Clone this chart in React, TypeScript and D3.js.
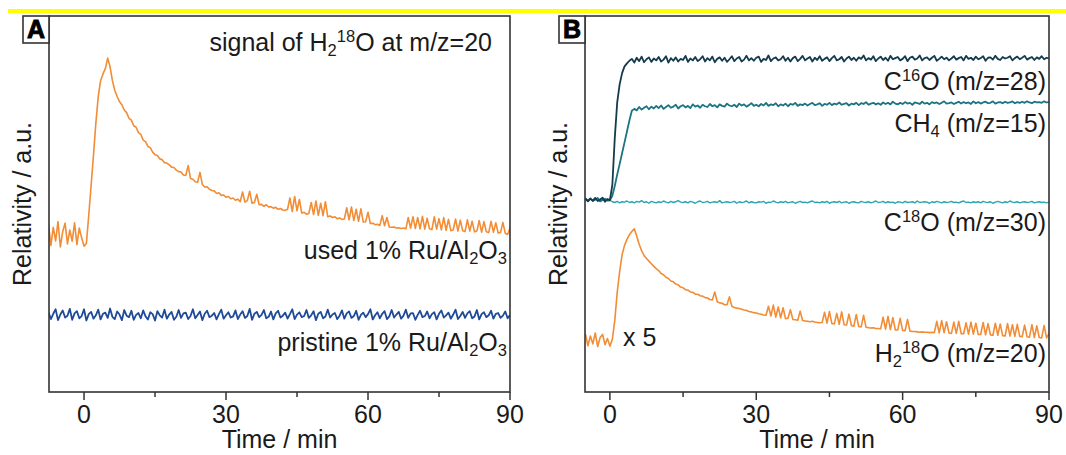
import React from 'react';
import * as d3 from 'd3';

// ---------------- data ----------------
// sampling grids (minutes)
const T_A = d3.range(-7.5, 90.001, 0.5);
const T_B = d3.range(-5, 90.001, 0.5);
const MAJOR_TICKS = [0, 30, 60, 90];
const MINOR_TICKS = [15, 45, 75];

// Panel A: H2 18O signal (a.u.)
const USED_A = [
  44.5, 39.0, 43.8, 40.2, 45.3, 38.6, 42.7, 44.9, 39.4, 43.1,
  40.1, 45.0, 39.2, 43.6, 41.0, 38.8, 39.5, 47.0, 55.0, 63.0,
  71.5, 78.5, 82.8, 84.6, 86.0, 88.8, 86.5, 82.8, 80.2, 78.6,
  77.2, 76.4, 75.0, 74.3, 72.8, 72.3, 70.8, 70.4, 69.0, 68.5,
  67.0, 66.6, 65.3, 65.0, 63.8, 63.1, 62.9, 62.0, 61.8, 61.0,
  60.9, 60.4, 59.8, 59.7, 59.0, 58.6, 58.5, 57.7, 57.6, 60.2,
  56.8, 56.6, 55.9, 55.8, 58.4, 55.2, 54.5, 54.6, 53.9, 53.6,
  53.5, 52.8, 53.0, 52.3, 52.4, 51.8, 52.0, 51.4, 51.6, 51.0,
  51.3, 50.6, 53.2, 50.5, 50.9, 53.4, 50.2, 50.4, 52.6, 49.8,
  49.9, 49.4, 49.8, 49.2, 49.3, 48.9, 49.1, 48.6, 48.8, 48.4,
  48.3, 48.6, 51.6, 48.0, 52.0, 48.2, 51.2, 47.6, 47.8, 47.3,
  47.5, 50.4, 47.2, 50.8, 47.0, 50.2, 46.9, 50.6, 46.6, 46.8,
  46.4, 46.6, 46.1, 46.3, 45.9, 46.0, 49.0, 45.8, 49.2, 45.6,
  48.6, 45.4, 48.7, 45.2, 45.3, 47.8, 44.8, 44.9, 44.5, 44.6,
  44.3, 46.9, 44.2, 46.4, 43.9, 43.8, 43.9, 43.6, 43.7, 43.5,
  43.6, 43.4, 46.4, 43.6, 46.6, 43.5, 46.4, 43.4, 46.7, 43.3,
  46.2, 43.4, 43.2, 46.6, 43.3, 46.1, 43.1, 46.4, 43.0, 45.9,
  42.9, 43.1, 46.0, 42.8, 45.7, 42.9, 42.7, 45.8, 42.8, 45.4,
  42.6, 42.8, 45.6, 42.5, 45.3, 42.6, 42.4, 45.4, 42.5, 45.0,
  42.3, 42.4, 45.1, 42.2, 41.9, 43.6,
];
const PRISTINE_A = [
  21.2, 19.4, 20.8, 22.0, 19.1, 20.6, 21.7, 19.8, 20.3, 22.1,
  19.2, 20.9, 21.5, 19.6, 20.2, 22.0, 19.0, 20.7, 21.3, 19.5,
  20.4, 21.9, 19.3, 20.8, 21.1, 19.7, 22.2, 20.0, 19.4, 21.4,
  20.6, 19.1, 21.8, 20.3, 19.9, 21.6, 19.2, 20.5, 21.0, 19.6,
  21.7, 20.1, 19.3, 21.2, 20.7, 19.0, 21.5, 20.4, 19.8, 21.9,
  19.5, 20.6, 21.3, 19.2, 20.0, 21.8, 19.7, 20.9, 21.1, 19.4,
  20.2, 22.0, 19.6, 20.5, 21.4, 19.1, 20.8, 21.6, 19.9, 20.3,
  21.0, 19.3, 20.7, 21.9, 19.5, 20.4, 21.2, 19.8, 20.1, 21.7,
  19.4, 20.6, 21.5, 19.7, 20.2, 22.1, 19.2, 20.8, 21.3, 19.9,
  20.5, 21.8, 19.6, 20.0, 21.4, 19.3, 20.9, 21.6, 19.8, 20.3,
  21.1, 19.5, 20.7, 22.0, 19.4, 20.6, 21.2, 19.9, 20.2, 21.8,
  19.7, 20.4, 21.5, 19.1, 20.8, 21.3, 19.6, 20.1, 21.9, 19.8,
  20.6, 21.0, 19.4, 20.3, 21.7, 19.5, 20.9, 21.4, 19.7, 20.2,
  21.6, 19.2, 20.5, 21.1, 19.9, 20.7, 22.0, 19.3, 20.4, 21.2,
  19.6, 20.8, 21.5, 19.4, 20.1, 21.8, 19.8, 20.6, 21.3, 19.5,
  20.3, 21.9, 19.7, 20.9, 21.0, 19.2, 20.5, 21.6, 19.9, 20.2,
  21.4, 19.6, 20.7, 21.2, 19.3, 20.8, 21.7, 19.8, 20.4, 21.1,
  19.5, 20.6, 21.9, 19.4, 20.2, 21.3, 19.7, 20.9, 21.5, 19.6,
  20.1, 21.8, 19.3, 20.7, 21.2, 19.9, 20.4, 21.6, 19.5, 20.8,
  21.0, 19.7, 20.3, 21.4, 19.6, 20.5,
];

// Panel B (a.u.)
const C16O_B = [
  51.5, 50.7, 51.4, 50.9, 51.6, 50.8, 51.2, 51.7, 50.6, 51.3,
  51.0, 55.0, 67.5, 77.0, 81.8, 84.8, 86.6, 87.4, 88.1, 88.6,
  87.6, 88.9, 88.0, 89.2, 87.7, 88.5, 89.0, 87.8, 88.7, 88.2,
  89.1, 87.9, 88.4, 89.3, 87.6, 88.8, 88.1, 89.0, 87.9, 88.6,
  88.3, 89.4, 87.8, 88.7, 88.2, 89.1, 88.0, 88.5, 89.3, 87.9,
  88.8, 88.2, 89.2, 87.7, 88.6, 89.0, 88.1, 88.9, 87.8, 88.5,
  89.3, 88.0, 88.7, 89.1, 87.9, 88.4, 89.4, 88.2, 88.8, 88.1,
  88.9, 89.2, 87.8, 88.6, 88.3, 89.5, 88.0, 88.7, 89.0, 88.2,
  88.5, 89.3, 88.1, 88.9, 87.9, 88.8, 89.2, 88.0, 88.6, 89.4,
  88.2, 88.7, 89.1, 87.9, 88.9, 88.3, 89.3, 88.1, 88.6, 89.0,
  88.0, 88.8, 89.4, 88.2, 88.5, 89.1, 87.9, 88.7, 89.2, 88.3,
  88.9, 88.1, 89.0, 88.6, 89.5, 88.2, 88.8, 88.4, 89.3, 88.0,
  88.7, 89.2, 88.3, 88.9, 88.1, 89.4, 88.5, 88.8, 89.1, 88.2,
  88.6, 89.3, 88.0, 88.9, 89.2, 88.4, 88.7, 89.5, 88.2, 88.8,
  89.0, 88.3, 88.9, 89.4, 88.1, 88.6, 89.2, 88.5, 88.9, 88.2,
  88.7, 89.3, 88.4, 88.8, 89.1, 88.2, 89.4, 88.6, 88.9, 88.3,
  89.2, 88.5, 88.8, 89.3, 88.1, 88.9, 89.0, 88.4, 89.4, 88.6,
  88.3, 89.1, 88.7, 88.9, 89.3, 88.2, 88.8, 89.2, 88.5, 88.9,
  89.4, 88.4, 88.8, 89.1, 88.3, 89.0, 88.6, 89.3, 88.5, 88.9,
  88.7,
];
const CH4_B = [
  51.3, 50.9, 51.5, 50.8, 51.2, 51.6, 50.7, 51.1, 51.4, 50.9,
  51.0, 52.2, 54.8, 57.8, 60.6, 63.5, 66.4, 69.3, 72.2, 74.8,
  75.3, 74.9, 75.8, 75.1, 75.6, 76.0, 75.2, 75.9, 75.4, 76.1,
  75.5, 76.2, 75.3, 75.8, 76.3, 75.6, 75.9, 76.4, 75.4, 76.0,
  76.3, 75.7, 76.1, 75.5, 76.5, 75.9, 76.2, 75.6, 76.4, 76.0,
  75.8, 76.6, 76.0, 76.3, 75.7, 76.5, 76.1, 75.9, 76.7, 76.2,
  76.0, 76.4, 75.8, 76.7, 76.2, 76.5, 75.9, 76.3, 76.8, 76.1,
  76.4, 76.0, 76.6, 76.2, 76.9, 76.1, 76.5, 76.3, 76.8, 76.0,
  76.5, 76.2, 76.7, 76.0, 76.6, 76.4, 76.9, 76.1, 76.5, 76.3,
  76.7, 76.2, 76.6, 76.9, 76.3, 76.5, 76.8, 76.1, 76.6, 76.4,
  76.9, 76.3, 76.7, 76.5, 77.0, 76.4, 76.6, 76.8, 76.2, 76.7,
  76.5, 76.9, 76.3, 76.8, 76.6, 77.1, 76.4, 76.7, 76.9, 76.5,
  76.8, 76.4, 77.0, 76.6, 76.9, 76.5, 77.2, 76.7, 76.5, 76.9,
  76.6, 77.1, 76.7, 76.9, 76.4, 77.0, 76.8, 76.6, 77.2, 76.7,
  76.9, 76.5, 77.1, 76.8, 77.0, 76.6, 76.9, 77.3, 76.7, 76.8,
  77.0, 76.6, 76.9, 77.2, 76.7, 77.1, 76.8, 77.0, 76.6, 77.3,
  76.8, 77.1, 76.7, 77.0, 77.2, 76.8, 76.9, 77.3, 76.7, 77.0,
  77.1, 76.8, 77.2, 76.9, 77.0, 77.3, 76.8, 77.1, 76.9, 77.2,
  76.9, 77.3, 77.0, 76.8, 77.2, 77.0, 77.1, 76.9, 77.3, 77.0,
  77.1,
];
const C18O_B = [
  51.2, 50.9, 51.4, 50.8, 51.1, 51.5, 50.9, 51.2, 51.0, 51.3,
  51.0, 50.6, 50.4, 50.7, 50.3, 50.6, 50.5, 50.8, 50.4, 50.6,
  50.3, 50.7, 50.5, 50.9, 50.4, 50.6, 50.2, 50.7, 50.5, 50.3,
  50.6, 50.4, 50.8, 50.5, 50.3, 50.7, 50.4, 50.6, 50.9, 50.5,
  50.4, 50.6, 50.3, 50.7, 50.5, 50.2, 50.6, 50.8, 50.4, 50.5,
  50.7, 50.3, 50.5, 50.6, 50.4, 50.9, 50.3, 50.5, 50.6, 50.4,
  50.5, 50.7, 50.2, 50.6, 50.4, 50.5, 50.8, 50.3, 50.6, 50.4,
  50.3, 50.6, 50.5, 50.7, 50.2, 50.5, 50.4, 50.8, 50.5, 50.3,
  50.6, 50.4, 50.7, 50.3, 50.5, 50.6, 50.2, 50.5, 50.7, 50.4,
  50.5, 50.3, 50.6, 50.8, 50.4, 50.5, 50.3, 50.6, 50.4, 50.7,
  50.2, 50.5, 50.6, 50.4, 50.7, 50.3, 50.5, 50.6, 50.2, 50.5,
  50.6, 50.4, 50.3, 50.7, 50.5, 50.4, 50.6, 50.3, 50.5, 50.8,
  50.4, 50.5, 50.7, 50.3, 50.6, 50.4, 50.5, 50.2, 50.6, 50.5,
  50.3, 50.7, 50.4, 50.5, 50.6, 50.3, 50.8, 50.4, 50.5, 50.6,
  50.5, 50.2, 50.6, 50.4, 50.7, 50.5, 50.3, 50.6, 50.4, 50.5,
  50.7, 50.4, 50.5, 50.3, 50.6, 50.8, 50.4, 50.5, 50.3, 50.6,
  50.4, 50.6, 50.3, 50.7, 50.5, 50.4, 50.6, 50.2, 50.5, 50.7,
  50.5, 50.3, 50.6, 50.4, 50.8, 50.5, 50.4, 50.6, 50.3, 50.5,
  50.6, 50.4, 50.5, 50.7, 50.3, 50.5, 50.6, 50.4, 50.5, 50.3,
  50.5,
];
const H218O_B = [
  15.4, 12.3, 14.9, 12.8, 15.7, 12.1, 14.5, 15.3, 12.6, 14.2,
  12.2, 14.0, 19.0, 26.5, 32.0, 36.5, 39.0, 40.6, 41.8, 42.7,
  43.4, 41.5, 39.3, 37.6, 36.3, 35.5, 34.8, 34.1, 33.4, 32.8,
  32.3, 31.5, 31.2, 30.5, 30.2, 29.5, 29.3, 28.7, 28.5, 27.9,
  27.7, 27.2, 27.1, 26.6, 26.5, 26.0, 26.0, 25.6, 25.5, 25.1,
  25.0, 24.6, 24.5, 26.6, 24.0, 23.7, 23.6, 23.2, 23.2, 25.3,
  22.8, 22.5, 22.3, 22.2, 22.0, 21.8, 21.7, 21.4, 21.3, 21.1,
  21.0, 20.8, 20.7, 20.5, 20.4, 22.8, 20.2, 23.1, 19.9, 22.6,
  19.7, 22.4, 19.5, 19.6, 21.9, 19.3, 19.2, 19.1, 21.5, 19.0,
  18.9, 18.8, 18.7, 18.8, 18.6, 18.5, 18.4, 18.5, 21.2, 18.3,
  21.4, 18.2, 18.1, 20.9, 18.0, 21.3, 17.9, 17.8, 20.7, 17.7,
  17.5, 20.6, 17.4, 17.3, 20.4, 17.2, 17.1, 17.0, 17.1, 16.9,
  16.9, 16.8, 19.9, 16.7, 20.1, 16.6, 19.8, 16.5, 16.5, 19.6,
  16.4, 16.3, 19.3, 16.2, 16.1, 16.1, 16.0, 15.9, 16.0, 15.9,
  15.9, 15.8, 15.9, 15.8, 18.8, 15.7, 19.0, 15.8, 18.7, 15.7,
  15.6, 18.6, 15.6, 18.8, 15.5, 15.5, 18.4, 15.4, 18.6, 15.4,
  18.3, 15.3, 15.3, 18.5, 15.2, 18.2, 15.2, 15.1, 18.3, 15.1,
  18.1, 15.0, 14.9, 18.2, 14.9, 17.9, 14.8, 18.0, 14.8, 14.7,
  17.8, 14.7, 14.6, 17.9, 14.5, 17.6, 14.5, 14.4, 17.7, 14.4,
  15.5,
];

// ---------------- styling ----------------
const FONT = "'Liberation Sans', Arial, Helvetica, sans-serif";
const TXT = '#1a1a1a';
const FRAME = '#333333';
const FS = 25;

type Seg = { t: string; k?: 'sub' | 'sup' };

function RichText({ x, y, segs, anchor = 'end', size = FS }: { x: number; y: number; segs: Seg[]; anchor?: string; size?: number }) {
  let cur = 0;
  const small = size * 0.66;
  return (
    <text x={x} y={y} textAnchor={anchor as any} fontFamily={FONT} fontSize={size} fill={TXT}>
      {segs.map((s, i) => {
        const target = s.k === 'sub' ? size * 0.2 : s.k === 'sup' ? -size * 0.38 : 0;
        const dy = target - cur;
        cur = target;
        return (
          <tspan key={i} dy={dy} fontSize={s.k ? small : size}>
            {s.t}
          </tspan>
        );
      })}
    </text>
  );
}

type SeriesDef = { t: number[]; v: number[]; color: string; width?: number };
type LabelDef = { x: number; y: number; segs: Seg[]; anchor?: string };

function Panel({ id, letter, left, right, top, bottom, xDomain, series, labels }: {
  id: string; letter: string; left: number; right: number; top: number; bottom: number;
  xDomain: [number, number]; series: SeriesDef[]; labels: LabelDef[];
}) {
  const x = d3.scaleLinear().domain(xDomain).range([left, right]);
  const y = d3.scaleLinear().domain([0, 100]).range([bottom, top]);
  const cx = (left + right) / 2;
  const cy = (top + bottom) / 2;
  return (
    <g>
      <defs>
        <clipPath id={`clip-${id}`}>
          <rect x={left} y={top} width={right - left} height={bottom - top} />
        </clipPath>
      </defs>
      <g clipPath={`url(#clip-${id})`}>
        {series.map((s, i) => {
          const line = d3.line<number>().x((_, j) => x(s.t[j])).y((d) => y(d));
          return <path key={i} d={line(s.v) || ''} fill="none" stroke={s.color} strokeWidth={s.width ?? 1.5} strokeLinejoin="round" />;
        })}
      </g>
      <rect x={left} y={top} width={right - left} height={bottom - top} fill="none" stroke={FRAME} strokeWidth={1.6} />
      {MAJOR_TICKS.map((t) => (
        <g key={t}>
          <line x1={x(t)} x2={x(t)} y1={bottom} y2={bottom + 8} stroke={FRAME} strokeWidth={1.5} />
          <text x={x(t)} y={bottom + 31} textAnchor="middle" fontFamily={FONT} fontSize={FS} fill={TXT}>{t}</text>
        </g>
      ))}
      {MINOR_TICKS.map((t) => (
        <line key={t} x1={x(t)} x2={x(t)} y1={bottom} y2={bottom + 5} stroke={FRAME} strokeWidth={1.5} />
      ))}
      <text x={cx} y={bottom + 56} textAnchor="middle" fontFamily={FONT} fontSize={FS} fill={TXT}>Time / min</text>
      <text transform={`translate(${left - 18},${cy}) rotate(-90)`} textAnchor="middle" fontFamily={FONT} fontSize={FS} fill={TXT}>Relativity / a.u.</text>
      {labels.map((l, i) => (
        <RichText key={i} x={l.x} y={l.y} segs={l.segs} anchor={l.anchor ?? 'end'} />
      ))}
      <rect x={left - 26} y={top} width={26} height={27} fill="#fff" stroke={FRAME} strokeWidth={1.6} />
      <text x={left - 13} y={top + 22} textAnchor="middle" fontFamily={FONT} fontSize={25} fontWeight="bold" fill="#000" stroke="#000" strokeWidth={0.9}>{letter}</text>
    </g>
  );
}

export default function App() {
  return (
    <div style={{ position: 'absolute', left: 0, top: 0 }}>
      <svg width={1066} height={455} style={{ display: 'block', background: '#fff' }}>
        <rect x={8} y={9} width={1058} height={4} fill="#ffff00" />
        <Panel
          id="a" letter="A" left={49} right={510} top={16} bottom={392} xDomain={[-7.4, 90]}
          series={[
            { t: T_A, v: USED_A, color: '#f28c35', width: 1.6 },
            { t: T_A, v: PRISTINE_A, color: '#1e4a98', width: 1.8 },
          ]}
          labels={[
            { x: 492, y: 51, segs: [{ t: 'signal of H' }, { t: '2', k: 'sub' }, { t: '18', k: 'sup' }, { t: 'O at m/z=20' }] },
            { x: 507, y: 259, segs: [{ t: 'used 1% Ru/Al' }, { t: '2', k: 'sub' }, { t: 'O' }, { t: '3', k: 'sub' }] },
            { x: 507, y: 351, segs: [{ t: 'pristine 1% Ru/Al' }, { t: '2', k: 'sub' }, { t: 'O' }, { t: '3', k: 'sub' }] },
          ]}
        />
        <Panel
          id="b" letter="B" left={585} right={1049} top={16} bottom={392} xDomain={[-5.1, 90]}
          series={[
            { t: T_B, v: C18O_B, color: '#2aa6b0', width: 1.4 },
            { t: T_B, v: CH4_B, color: '#1b7580', width: 1.8 },
            { t: T_B, v: C16O_B, color: '#143a4e', width: 1.8 },
            { t: T_B, v: H218O_B, color: '#f28c35', width: 1.6 },
          ]}
          labels={[
            { x: 1046, y: 90, segs: [{ t: 'C' }, { t: '16', k: 'sup' }, { t: 'O (m/z=28)' }] },
            { x: 1046, y: 132, segs: [{ t: 'CH' }, { t: '4', k: 'sub' }, { t: ' (m/z=15)' }] },
            { x: 1046, y: 231, segs: [{ t: 'C' }, { t: '18', k: 'sup' }, { t: 'O (m/z=30)' }] },
            { x: 1046, y: 362, segs: [{ t: 'H' }, { t: '2', k: 'sub' }, { t: '18', k: 'sup' }, { t: 'O (m/z=20)' }] },
            { x: 623, y: 346, segs: [{ t: 'x 5' }], anchor: 'start' },
          ]}
        />
      </svg>
    </div>
  );
}
